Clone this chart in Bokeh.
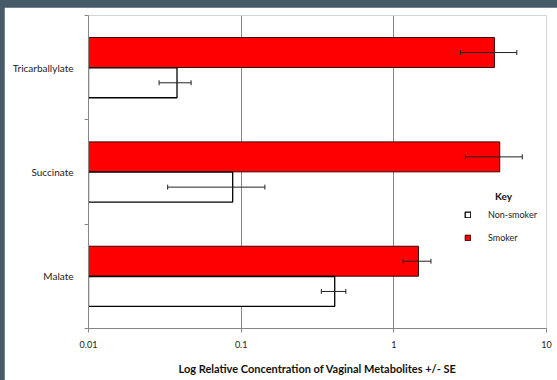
import re
from bokeh.plotting import figure
from bokeh.models import (Range1d, FixedTicker, ColumnDataSource, Whisker, TeeHead,
                          Legend, LegendItem, Label)
from bokeh.embed import file_html
from bokeh.resources import INLINE

# ---- data ----
categories = ["Malate", "Succinate", "Tricarballylate"]   # bottom -> top
smoker = [1.45, 4.94, 4.56]
smoker_se = [0.30, 2.00, 1.83]
non_smoker = [0.41, 0.088, 0.038]
non_smoker_se = [0.075, 0.055, 0.009]
x_ticks = [0.01, 0.1, 1, 10]
x_tick_labels = ["0.01", "0.1", "1", "10"]

FONT = "Lato"
GRID = "#868686"
bar_h = 0.287
off = 0.145

idx = list(range(len(categories)))
y_smk = [i + 0.5 + off for i in idx]
y_non = [i + 0.5 - off for i in idx]

src_s = ColumnDataSource(dict(y=y_smk, v=smoker, lo=[v - e for v, e in zip(smoker, smoker_se)],
                              hi=[v + e for v, e in zip(smoker, smoker_se)], left=[x_ticks[0]] * 3))
src_n = ColumnDataSource(dict(y=y_non, v=non_smoker, lo=[v - e for v, e in zip(non_smoker, non_smoker_se)],
                              hi=[v + e for v, e in zip(non_smoker, non_smoker_se)], left=[x_ticks[0]] * 3))

p = figure(width=553, height=373, x_axis_type="log",
           x_range=Range1d(x_ticks[0], x_ticks[-1]), y_range=Range1d(0, len(categories)),
           output_backend="svg", toolbar_location=None,
           min_border_left=84, min_border_right=11, min_border_top=8, min_border_bottom=52)
p.outline_line_color = None
p.background_fill_color = "white"
p.border_fill_color = "white"

# grid
p.xgrid.ticker = FixedTicker(ticks=x_ticks)
p.xgrid.grid_line_color = GRID
p.xgrid.grid_line_width = 1
p.ygrid.grid_line_color = None

r_s = p.hbar(y="y", right="v", left="left", height=bar_h, source=src_s,
             fill_color="#FF0000", line_color="#3a0000", line_width=1)
r_n = p.hbar(y="y", right="v", left="left", height=bar_h, source=src_n,
             fill_color="white", line_color="black", line_width=1.3)

for src in (src_s, src_n):
    w = Whisker(source=src, base="y", lower="lo", upper="hi", dimension="width",
                line_color="#222222", line_width=1, level="overlay",
                upper_head=TeeHead(size=5, line_color="#222222", line_width=1),
                lower_head=TeeHead(size=5, line_color="#222222", line_width=1))
    p.add_layout(w)

# x axis
xa = p.xaxis[0]
xa.ticker = FixedTicker(ticks=x_ticks, minor_ticks=[])
xa.major_label_overrides = {t: l for t, l in zip(x_ticks, x_tick_labels)}
xa.axis_line_color = GRID
xa.major_tick_line_color = GRID
xa.major_tick_out = 4
xa.major_tick_in = 0
xa.minor_tick_line_color = None
xa.major_label_standoff = 8
xa.major_label_text_font = FONT
xa.major_label_text_font_size = "9px"
xa.major_label_text_color = "#222222"
xa.axis_label = "Log Relative Concentration of Vaginal Metabolites +/- SE"
xa.axis_label_text_font = FONT
xa.axis_label_text_font_size = "11px"
xa.axis_label_text_font_style = "bold"
xa.axis_label_text_color = "#111111"
xa.axis_label_standoff = 11

# y axis
ya = p.yaxis[0]
ya.ticker = FixedTicker(ticks=[i + 0.5 for i in idx], minor_ticks=[float(i) for i in range(len(categories) + 1)])
ya.major_label_overrides = {i + 0.5: c for i, c in zip(idx, categories)}
ya.axis_line_color = GRID
ya.major_tick_line_color = None
ya.major_tick_out = 0
ya.minor_tick_line_color = GRID
ya.minor_tick_out = 4
ya.minor_tick_in = 0
ya.major_label_standoff = 11
ya.major_label_text_font = FONT
ya.major_label_text_font_size = "10px"
ya.major_label_text_color = "#222222"

# legend
legend = Legend(items=[LegendItem(label="Non-smoker", renderers=[r_n]),
                       LegendItem(label="Smoker", renderers=[r_s])],
                location=(376, 84), orientation="vertical",
                glyph_width=7, glyph_height=7, label_height=14, label_standoff=17,
                spacing=9, padding=0, margin=0,
                label_text_font=FONT, label_text_font_size="9px", label_text_color="#222222",
                border_line_alpha=0, background_fill_alpha=0)
p.add_layout(legend)

key = Label(x=5.23, y=1.273, text="Key", text_font=FONT, text_font_size="10px",
            text_font_style="bold", text_align="center", text_baseline="middle",
            text_color="#111111")
p.add_layout(key)

html = file_html(p, INLINE)
page_style = ("<style>html, body { background: #475a68 !important; } "
              "body { margin: 0 !important; padding: 7px 0 0 4px !important; "
              "box-sizing: border-box !important; }</style>")
html = re.sub(r"</head>", page_style + "\n</head>", html, count=1)
open("out.html", "w").write(html)
